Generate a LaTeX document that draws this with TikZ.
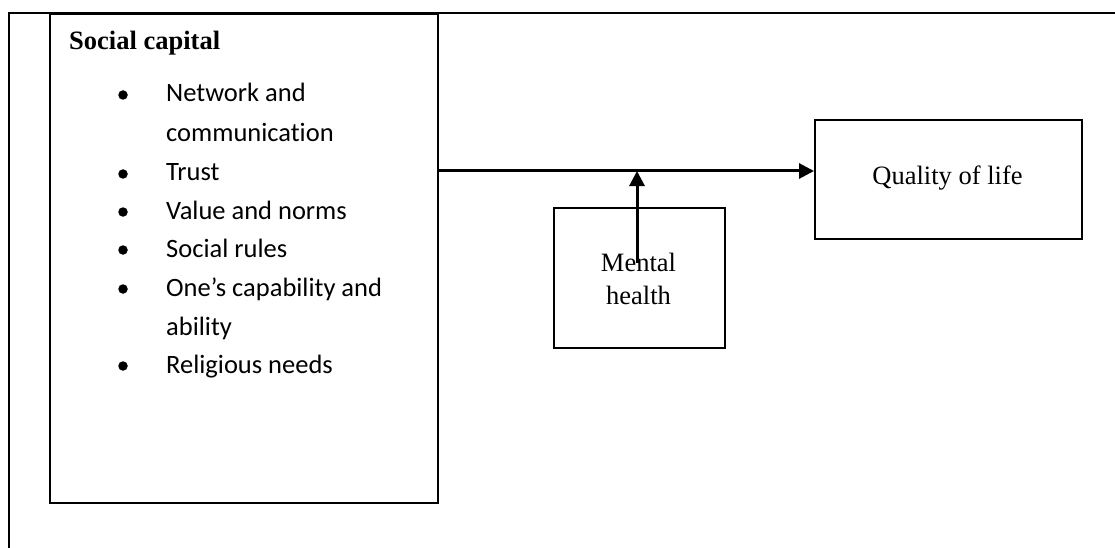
\documentclass[tikz,border=0pt]{standalone}
\usepackage{fontspec}
\setmainfont{Liberation Serif}
\newfontfamily\calfont[RawFeature=-liga]{Carlito}
\usetikzlibrary{arrows.meta}
\tikzset{
  frameline/.style={line width=2pt},
  boxnode/.style={draw, line width=1.8pt, inner sep=0pt, anchor=north west},
  serif/.style={font=\fontsize{26.5}{33}\selectfont, inner sep=0pt},
  item/.style={font=\calfont\fontsize{26.5}{38.7}\selectfont, inner sep=0pt, anchor=base west},
  bulletdot/.style={fill=black, draw=none, circle, minimum size=9.5pt, inner sep=0pt},
  arr/.style={line width=3pt, -{Triangle[length=15pt,width=15pt]}}
}
\begin{document}
\begin{tikzpicture}[x=1pt,y=-1pt]
\useasboundingbox (0,0) rectangle (1115,548);
% outer frame
\coordinate (ftl) at (9,13);
\coordinate (fbl) at (9,548);
\coordinate (ftr) at (1115,13);
\draw[frameline] (fbl) -- (ftl) -- (ftr);
% boxes
\node[boxnode, minimum width=388pt, minimum height=489pt] (sc) at (49,13) {};
\node[boxnode, minimum width=171pt, minimum height=140pt] (mh) at (553,207) {};
\node[boxnode, minimum width=267pt, minimum height=119pt] (ql) at (814,119) {};
% texts
\node[serif, anchor=base west, font=\bfseries\fontsize{26.5}{33}\selectfont] (sctitle) at (69,50) {Social capital};
\foreach \i/\y/\t in {1/102/Network and, 2/142/communication, 3/181/Trust, 4/219/Value and norms, 5/257/Social rules, 6/296/One’s capability and, 7/335/ability, 8/373/Religious needs} {
  \node[item] (it\i) at (166,\y) {\t};
}
\foreach \i/\y in {1/102, 3/181, 4/219, 5/257, 6/296, 8/373} {
  \node[bulletdot] (b\i) at (123,\y-7) {};
}
\node[serif, align=center, anchor=center] (mhtext) at (638.5,279) {Mental\\health};
\node[serif, anchor=base] (qltext) at (947.5,185) {Quality of life};
% connectors
\coordinate (hstart) at (sc.east |- 0,171);
\coordinate (hend) at (ql.west |- 0,171);
\coordinate (vstart) at (637,263);
\coordinate (vend) at (637,171);
\draw[arr] (hstart) -- (hend);
\draw[arr] (vstart) -- (vend);
\end{tikzpicture}
\end{document}
